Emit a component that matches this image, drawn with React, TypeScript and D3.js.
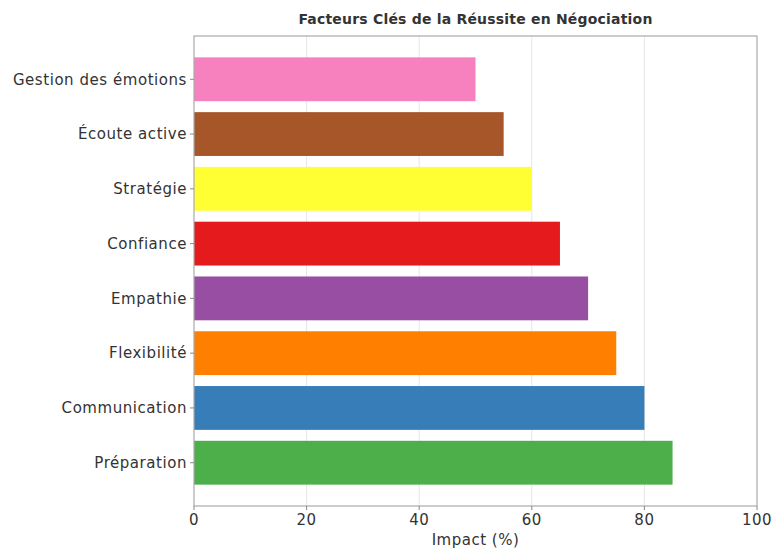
import React from "react";
import * as d3 from "d3";

const categories = ["Préparation", "Communication", "Flexibilité", "Empathie", "Confiance", "Stratégie", "Écoute active", "Gestion des émotions"];
const values = [85, 80, 75, 70, 65, 60, 55, 50];
const colors = ["#4daf4a", "#377eb8", "#ff7f00", "#984ea3", "#e41a1c", "#ffff33", "#a65628", "#f781bf"];
const xTicks = [0, 20, 40, 60, 80, 100];

const W = 772, H = 550;
const left = 194, right = 757, top = 36, bottom = 506;
const FONT = "'DejaVu Sans', sans-serif";

export default function App() {
  const x = d3.scaleLinear().domain([0, 100]).range([left, right]);
  const y = d3.scaleLinear().domain([-0.79, 7.79]).range([bottom, top]);
  const bh = (y(0) - y(0.8));
  return (
    <svg width={W} height={H} style={{ position: "absolute", left: 0, top: 0, background: "#fff" }}>
      <text x={(left + right) / 2} y={24} textAnchor="middle" fontFamily={FONT} fontSize={14} fontWeight={600} letterSpacing={0.2} fill="#333">
        Facteurs Clés de la Réussite en Négociation
      </text>
      {xTicks.slice(1, -1).map((t) => (
        <line key={"g" + t} x1={x(t)} x2={x(t)} y1={top} y2={bottom} stroke="#e6e6e6" strokeWidth={1} />
      ))}
      {categories.map((c, i) => (
        <rect key={c} x={x(0)} y={y(i) - bh / 2} width={x(values[i]) - x(0)} height={bh} fill={colors[i]} />
      ))}
      <rect x={left} y={top} width={right - left} height={bottom - top} fill="none" stroke="#aaa" strokeWidth={1.2} />
      {categories.map((c, i) => (
        <g key={"l" + c}>
          <line x1={left - 4} x2={left} y1={y(i)} y2={y(i)} stroke="#888" />
          <text x={left - 7} y={y(i)} dy="0.35em" textAnchor="end" fontFamily={FONT} fontSize={15} letterSpacing={0.55} fill="#333">{c}</text>
        </g>
      ))}
      {xTicks.map((t) => (
        <g key={"t" + t}>
          <line x1={x(t)} x2={x(t)} y1={bottom} y2={bottom + 4} stroke="#888" />
          <text x={x(t)} y={bottom + 19} textAnchor="middle" fontFamily={FONT} fontSize={15} letterSpacing={0.5} fill="#333">{t}</text>
        </g>
      ))}
      <text x={(left + right) / 2} y={545} textAnchor="middle" fontFamily={FONT} fontSize={15} letterSpacing={0.5} fill="#333">Impact (%)</text>
    </svg>
  );
}
